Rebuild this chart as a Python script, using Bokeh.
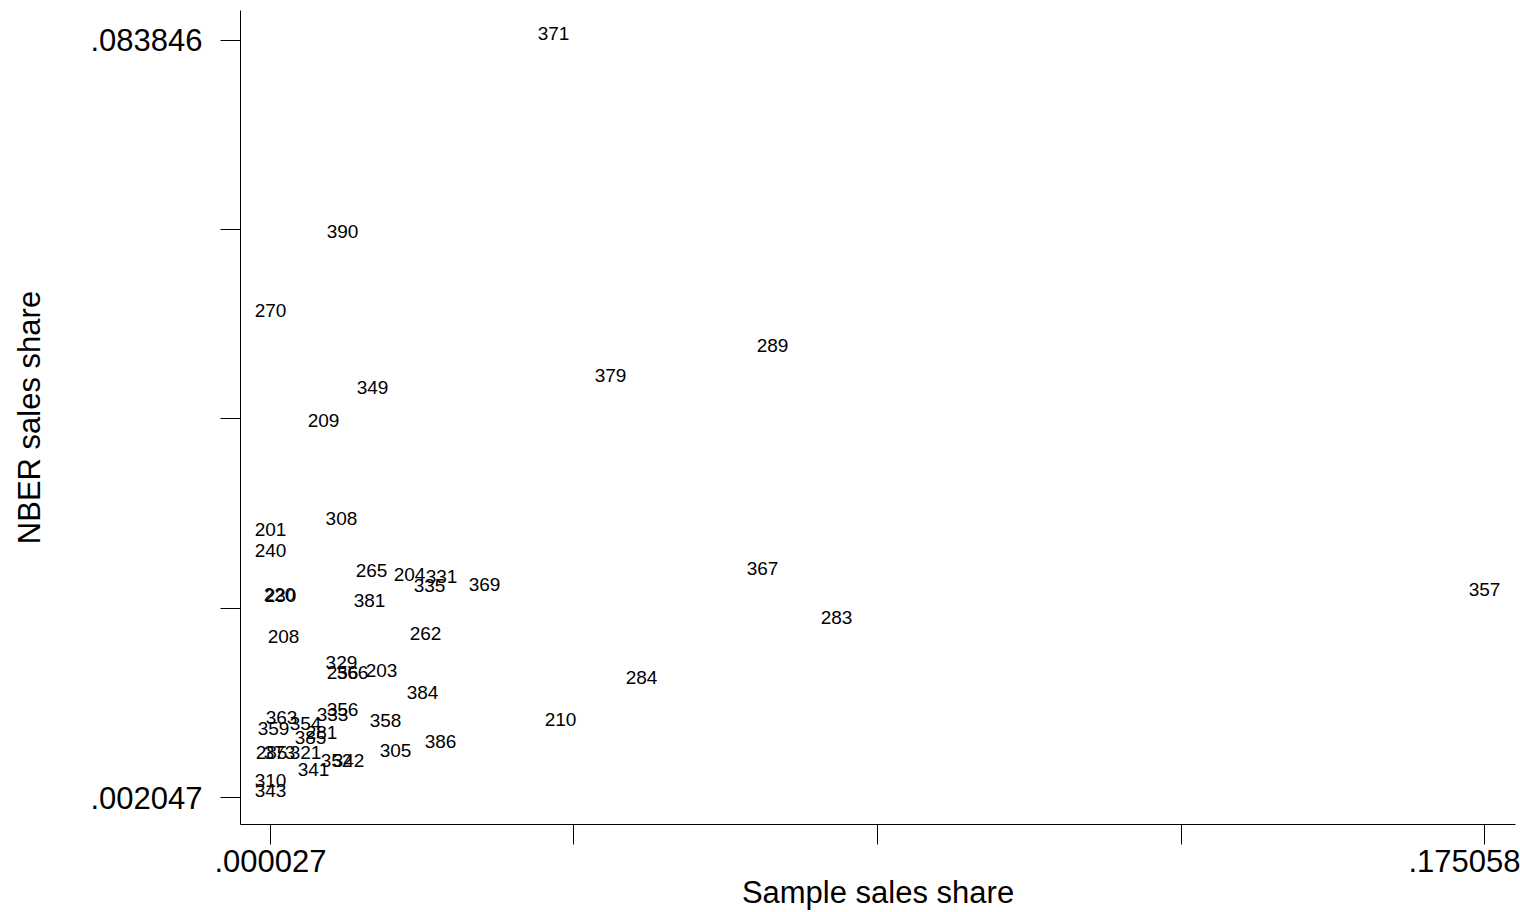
from bokeh.plotting import figure
from bokeh.models import ColumnDataSource, FixedTicker, CustomJSTickFormatter, Range1d
from bokeh.embed import file_html
from bokeh.resources import INLINE
from bokeh.core.properties import value

# Industry codes (marker labels)
industry = [371, 390, 270, 289, 379, 349, 209, 308, 201, 240, 265, 204, 331, 335,
            369, 367, 357, 220, 230, 381, 283, 208, 262, 329, 256, 366, 203, 384,
            284, 356, 333, 358, 363, 359, 354, 281, 385, 210, 285, 373, 321, 341,
            352, 342, 305, 386, 310, 343]

# Sample sales share (x)
sample_share = [0.04083, 0.01041, 0.000027, 0.07241, 0.04905, 0.01473, 0.00767, 0.01026,
                0.00003, 0.00004, 0.01459, 0.02007, 0.02468, 0.02295, 0.03088, 0.07097,
                0.175058, 0.00133, 0.00147, 0.01430, 0.08164, 0.00190, 0.02238, 0.01026,
                0.01041, 0.01185, 0.01603, 0.02194, 0.05352, 0.01041, 0.00897, 0.01661,
                0.00161, 0.00046, 0.00507, 0.00738, 0.00580, 0.04184, 0.00017, 0.00133,
                0.00507, 0.00623, 0.00955, 0.01127, 0.01805, 0.02454, 0.00003, 0.000027]

# NBER sales share (y)
nber_share = [0.083846, 0.06248, 0.05395, 0.05018, 0.04694, 0.04554, 0.04208, 0.03140,
              0.03021, 0.02795, 0.02579, 0.02536, 0.02514, 0.02417, 0.02428, 0.02600,
              0.02374, 0.02320, 0.02310, 0.02255, 0.02072, 0.01866, 0.01899, 0.01586,
              0.01478, 0.01478, 0.01500, 0.01262, 0.01424, 0.01079, 0.01025, 0.00960,
              0.00992, 0.00874, 0.00928, 0.00831, 0.00777, 0.00971, 0.00615, 0.00615,
              0.00615, 0.00431, 0.00529, 0.00529, 0.00636, 0.00733, 0.00313, 0.002047]

x_title = "Sample sales share"
y_title = "NBER sales share"

xmin, xmax = min(sample_share), max(sample_share)
ymin, ymax = min(nber_share), max(nber_share)
xstep = (xmax - xmin) / 4
ystep = (ymax - ymin) / 4

FONT = "Liberation Sans"

src = ColumnDataSource(dict(x=sample_share, y=nber_share,
                            label=[str(v) for v in industry]))

p = figure(width=1520, height=912, output_backend="svg", toolbar_location=None,
           x_range=Range1d(-0.004298, 0.179527),
           y_range=Range1d(-0.000867, 0.087083),
           min_border_left=240, min_border_right=5, min_border_top=10,
           min_border_bottom=87)
p.outline_line_color = None
p.grid.visible = False
p.background_fill_color = "white"
p.border_fill_color = "white"

p.text(x="x", y="y", text="label", source=src, text_align="center",
       text_baseline="middle", y_offset=-7, text_font=value(FONT),
       text_font_size=value("19px"), text_color="black")

fmt = CustomJSTickFormatter(code="return tick.toFixed(6).replace(/^0/, '');")

xa = p.xaxis[0]
xa.ticker = FixedTicker(ticks=[xmin, xmax],
                        minor_ticks=[xmin + k * xstep for k in range(1, 4)])
xa.formatter = fmt
ya = p.yaxis[0]
ya.ticker = FixedTicker(ticks=[ymin, ymax],
                        minor_ticks=[ymin + k * ystep for k in range(1, 4)])
ya.formatter = fmt

for ax in (xa, ya):
    ax.axis_line_color = "black"
    ax.axis_line_width = 1
    ax.major_tick_line_color = "black"
    ax.minor_tick_line_color = "black"
    ax.major_tick_out = 20
    ax.major_tick_in = 0
    ax.minor_tick_out = 20
    ax.minor_tick_in = 0
    ax.major_label_text_font = FONT
    ax.major_label_text_font_size = "31px"
    ax.major_label_text_color = "black"
    ax.axis_label_text_font = FONT
    ax.axis_label_text_font_size = "31px"
    ax.axis_label_text_font_style = "normal"
    ax.axis_label_text_color = "black"

xa.major_label_standoff = 5
xa.axis_label = x_title
xa.axis_label_standoff = 0
ya.major_label_standoff = 18
ya.axis_label = y_title
ya.axis_label_standoff = 40

open("out.html", "w").write(file_html(p, INLINE))
